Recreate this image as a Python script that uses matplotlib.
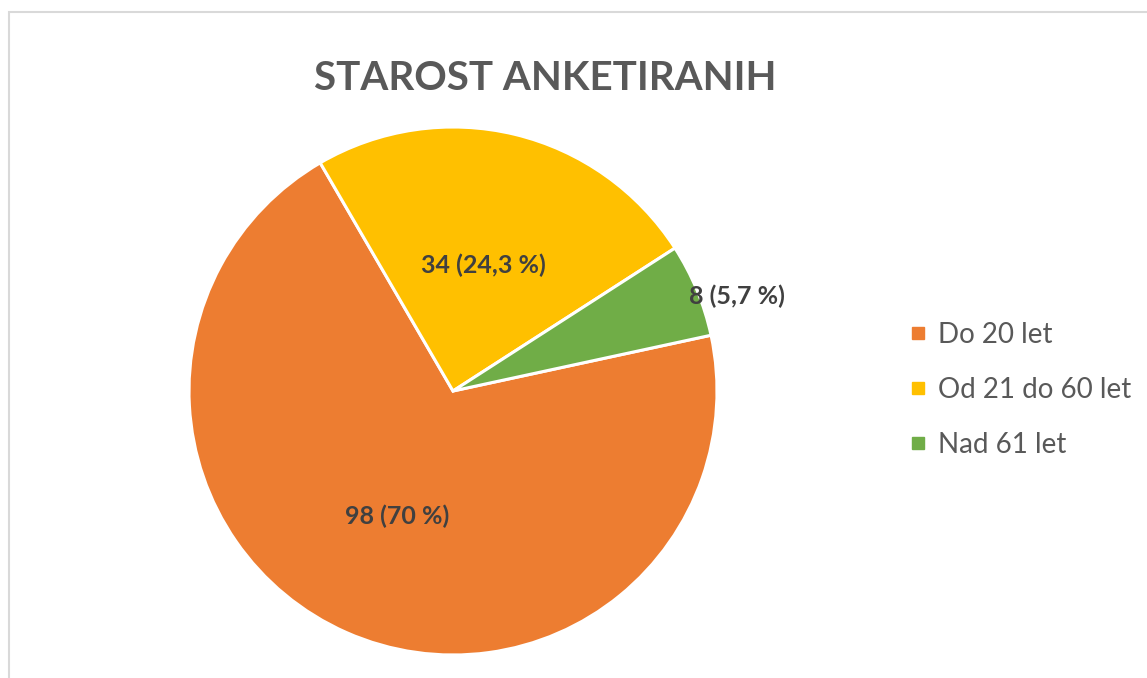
import numpy as np
import matplotlib
matplotlib.use("Agg")
import matplotlib.pyplot as plt
from matplotlib.lines import Line2D
from matplotlib.patches import Rectangle

plt.rcParams['font.family'] = ['Lato', 'DejaVu Sans']

# data
categories = ['Do 20 let', 'Od 21 do 60 let', 'Nad 61 let']
counts = [98, 34, 8]
pct_labels = ['70 %', '24,3 %', '5,7 %']
colors = ['#ED7D31', '#FFC000', '#70AD47']
# label placement: radial distance and angle shift (deg) from wedge middle
label_dist = [0.52, 0.49, 1.135]
label_shift = [0, 0, -4]

W, H = 1147, 678
fig = plt.figure(figsize=(W / 100, H / 100), dpi=100)

# light chart frame (cut at right/bottom like the screenshot)
fig.patches.append(Rectangle((9 / W, -0.05), 1.2, 1 - 12 / H + 0.05, transform=fig.transFigure,
                             fill=False, edgecolor='#D9D9D9', linewidth=1.5))

cx, cy, r = 453, 391, 264
ax = fig.add_axes([(cx - r) / W, (H - cy - r) / H, 2 * r / W, 2 * r / H])
wedges, _ = ax.pie(counts, colors=colors, startangle=12.2, counterclock=False,
                   wedgeprops=dict(edgecolor='white', linewidth=2.2))
ax.set_xlim(-1, 1)
ax.set_ylim(-1, 1)
ax.set_aspect('equal')
ax.axis('off')

for w, n, p, d, s in zip(wedges, counts, pct_labels, label_dist, label_shift):
    ang = np.deg2rad((w.theta1 + w.theta2) / 2 + s)
    ax.text(d * np.cos(ang), d * np.sin(ang), f'{n} ({p})', ha='center', va='center',
            fontsize=18, fontweight='bold', color='#404040')

fig.text(545 / W, 1 - 78 / H, 'STAROST ANKETIRANIH', ha='center', va='center',
         fontsize=29, fontweight='bold', color='#595959')

handles = [Line2D([], [], marker='s', linestyle='none', markersize=9,
                  markerfacecolor=c, markeredgecolor=c) for c in colors]
fig.legend(handles, categories, loc='center left', bbox_to_anchor=(896 / W, 1 - 390 / H),
           frameon=False, fontsize=20, labelcolor='#595959', handlelength=0.8,
           handletextpad=0.3, labelspacing=1.05, borderaxespad=0)

fig.savefig('out.png', dpi=100, facecolor='white')
